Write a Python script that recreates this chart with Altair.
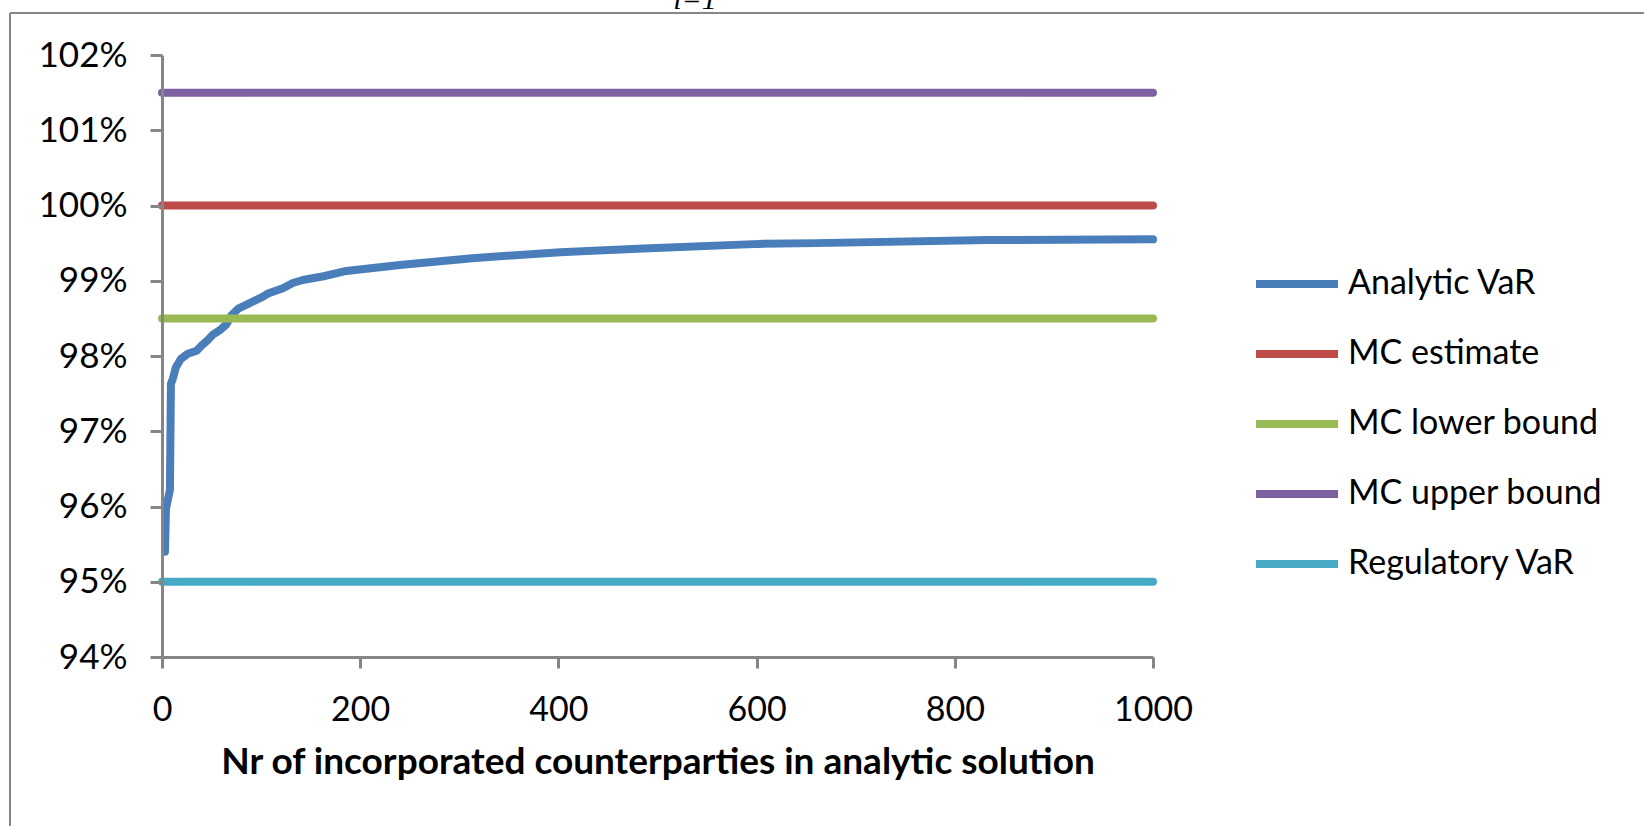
import altair as alt
import pandas as pd

# ---- data ----
counterparties = [3, 4, 8, 9, 11, 14, 19, 26, 35, 40, 46, 51, 58, 65, 70, 77, 88,
                  102, 107, 122, 132, 142, 163, 186, 213, 240, 313, 402, 486, 603,
                  660, 834, 1000]
analytic_var = [0.9540, 0.9597, 0.9622, 0.9763, 0.9770, 0.9785, 0.9796, 0.9803,
                0.9807, 0.9814, 0.9821, 0.9828, 0.9834, 0.9842, 0.9854, 0.9863,
                0.9870, 0.9879, 0.9883, 0.9890, 0.9897, 0.9901, 0.9906, 0.9913,
                0.9917, 0.9921, 0.9930, 0.9938, 0.9943, 0.9949, 0.9950, 0.9954,
                0.9955]

const_x = [0, 1000]
mc_estimate = 1.00
mc_lower = 0.985
mc_upper = 1.015
regulatory_var = 0.95

series_names = ["Analytic VaR", "MC estimate", "MC lower bound", "MC upper bound", "Regulatory VaR"]
series_colors = ["#4A7EBB", "#BE4B48", "#98B954", "#7D60A0", "#46AAC5"]
x_ticks = [0, 200, 400, 600, 800, 1000]
y_ticks = [0.94, 0.95, 0.96, 0.97, 0.98, 0.99, 1.00, 1.01, 1.02]

rows = []
for n, v in zip(counterparties, analytic_var):
    rows.append({"n": n, "v": v, "series": "Analytic VaR"})
for name, val in [("MC estimate", mc_estimate), ("MC lower bound", mc_lower),
                  ("MC upper bound", mc_upper), ("Regulatory VaR", regulatory_var)]:
    for x in const_x:
        rows.append({"n": x, "v": val, "series": name})
df = pd.DataFrame(rows)

FONT = "Lato"
GRAY = "#868686"

lines = alt.Chart(df).mark_line(strokeWidth=8, strokeCap="round", strokeJoin="round").encode(
    x=alt.X("n:Q", scale=alt.Scale(domain=[0, 1000], nice=False, zero=False),
            axis=alt.Axis(values=x_ticks, format="d",
                          title="Nr of incorporated counterparties in analytic solution",
                          grid=False, domainColor=GRAY, domainWidth=3, tickColor=GRAY, tickWidth=3,
                          tickSize=11, labelFont=FONT, labelFontSize=34, labelColor="black",
                          labelPadding=25, labelFlush=False,
                          titleFont=FONT, titleFontSize=37, titleFontWeight="bold", titleColor="black",
                          titlePadding=17, zindex=1)),
    y=alt.Y("v:Q", scale=alt.Scale(domain=[0.94, 1.02], nice=False, zero=False),
            axis=alt.Axis(values=y_ticks, format=".0%", title=None, grid=False,
                          domainColor=GRAY, domainWidth=3, tickColor=GRAY, tickWidth=3,
                          tickSize=12, labelFont=FONT, labelFontSize=35, labelColor="black",
                          labelPadding=23, labelFlush=False, zindex=1)),
    color=alt.Color("series:N", sort=series_names,
                    scale=alt.Scale(domain=series_names, range=series_colors),
                    legend=alt.Legend(orient="none", legendX=1118, legendY=212, title=None,
                                      symbolType="M-4.1,0H4.1", symbolSize=400, symbolStrokeWidth=8,
                                      labelFont=FONT, labelFontSize=34, labelColor="black",
                                      labelLimit=0, labelOffset=34, rowPadding=36)),
)

frame_top = alt.Chart(alt.Data(values=[{}])).mark_rule(color=GRAY, strokeWidth=2).encode(
    x=alt.value(-152), x2=alt.value(1600), y=alt.value(-42))
frame_left = alt.Chart(alt.Data(values=[{}])).mark_rule(color=GRAY, strokeWidth=2).encode(
    x=alt.value(-152), y=alt.value(-42), y2=alt.value(900))
formula = alt.Chart(alt.Data(values=[{}])).mark_text(
    text="i=1", font="Liberation Serif", fontStyle="italic", fontSize=30,
    align="center", baseline="alphabetic", color="black").encode(
    x=alt.value(533), y=alt.value(-46))

chart = alt.layer(frame_top, frame_left, formula, lines).properties(
    width=991, height=602,
    autosize=alt.AutoSizeParams(type="none"),
    padding={"left": 162, "top": 55, "right": 491, "bottom": 169},
    background="white",
).configure_view(stroke=None)

chart.save("out.html", embed_options={"renderer": "svg", "actions": False})
